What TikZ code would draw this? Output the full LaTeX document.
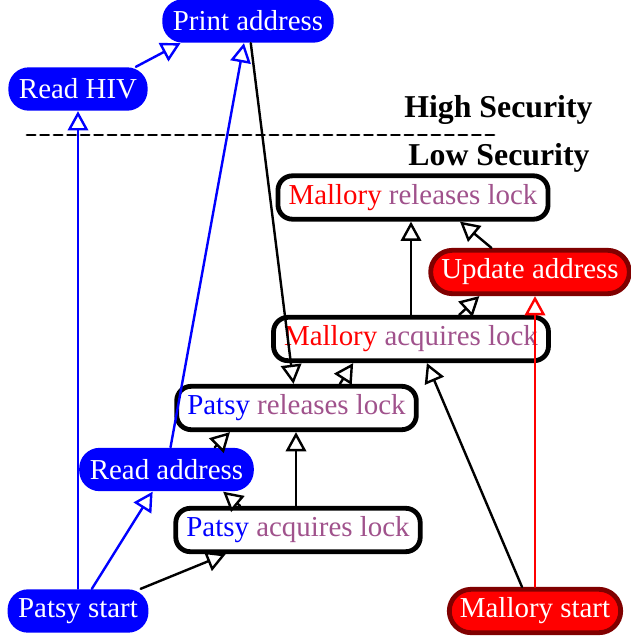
\documentclass[tikz,border=0pt]{standalone}
\usepackage{fontspec}
\setmainfont{Liberation Serif}
\usetikzlibrary{arrows.meta}
\definecolor{lockpurple}{RGB}{160,82,140}
\definecolor{darkred}{RGB}{128,0,0}

\begin{document}
\begin{tikzpicture}[line cap=round,line join=round,x=0.415pt,y=-0.415pt,
  box/.style={minimum height=18pt,inner xsep=4.4pt,inner ysep=0pt,font=\fontsize{12pt}{14pt}\selectfont},
  patsy/.style={box,fill=blue,text=white,rounded corners=8.5pt},
  mallory/.style={box,fill=red,draw=darkred,line width=2pt,text=white,rounded corners=9pt},
  lock/.style={box,fill=white,draw=black,line width=2pt,rounded corners=6pt},
  edge/.style={-{Triangle[open,fill=white,length=8pt,width=8.5pt]},line width=1pt},
  level/.style={inner sep=0pt,font=\bfseries\fontsize{13.2pt}{15pt}\selectfont}]
\useasboundingbox (0,0) rectangle (631,636);

% high security side
\node[patsy] (paddr) at (248,21) {Print address};
\node[patsy] (rhiv) at (78,89) {Read HIV};
\node[level,anchor=east] (high) at (593,110) {High Security};
\node[level,anchor=east] (low) at (590,158) {Low Security};
\draw[dashed,dash pattern=on 3.4pt off 2.2pt,line width=1.2pt] (27,135)--(497,135);

% low security side
\node[lock] (mrel) at (413,197.5) {\textcolor{red}{Mallory} \textcolor{lockpurple}{releases lock}};
\node[mallory] (upd) at (530,272) {Update address};
\node[lock] (macq) at (411,339) {\textcolor{red}{Mallory} \textcolor{lockpurple}{acquires lock}};
\node[lock] (prel) at (296.5,408) {\textcolor{blue}{Patsy} \textcolor{lockpurple}{releases lock}};
\node[patsy] (raddr) at (166.5,469.5) {Read address};
\node[lock] (pacq) at (298,530) {\textcolor{blue}{Patsy} \textcolor{lockpurple}{acquires lock}};
\node[patsy] (pstart) at (78,611) {Patsy start};
\node[mallory] (mstart) at (535,611) {Mallory start};

% patsy edges
\draw[edge,blue] (pstart) -- (rhiv);
\draw[edge,blue] ([xshift=24pt]rhiv.north) -- ([xshift=-28pt]paddr.south);
\draw[edge,blue] (pstart) -- (raddr);
\draw[edge,blue] (raddr) -- (paddr);
\draw[edge] ([xshift=26pt]pstart.north) -- ([xshift=-30pt]pacq.south);
\draw[edge] (paddr) -- (prel);
\draw[edge] ([xshift=-24pt]pacq.north) -- ([xshift=23.5pt]raddr.south);
\draw[edge] ([xshift=20pt]raddr.north) -- ([xshift=-27.6pt]prel.south);
\draw[edge] (pacq.north -| 296,0) -- (prel.south -| 296,0);
\draw[edge] ([xshift=18pt]prel.north) -- ([xshift=-24pt]macq.south);

% mallory edges
\draw[edge] ([xshift=-5.4pt]mstart.north) -- ([xshift=6.6pt]macq.south);
\draw[edge,red] (mstart.north) -- (mstart.north |- upd.south);
\draw[edge] ([xshift=20pt]macq.north) -- ([xshift=-21pt]upd.south);
\draw[edge] (macq.north) -- (macq.north |- mrel.south);
\draw[edge] ([xshift=-16pt]upd.north) -- ([xshift=19.5pt]mrel.south);
\end{tikzpicture}
\end{document}
